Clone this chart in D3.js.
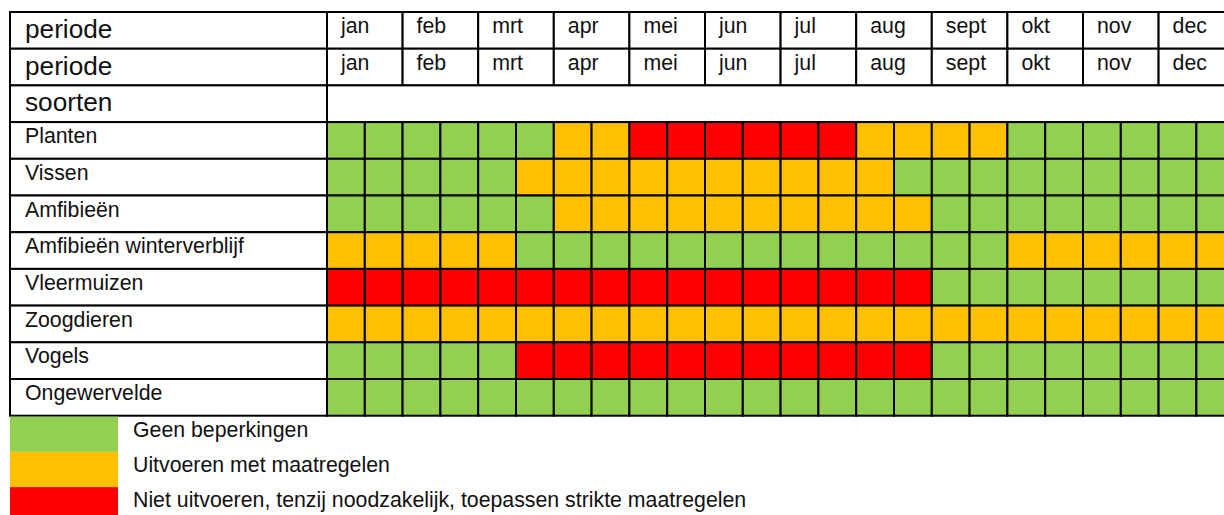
<!DOCTYPE html>
<html>
<head>
<meta charset="utf-8">
<script src="https://cdn.jsdelivr.net/npm/d3@7"></script>
<style>
  body { margin: 0; background: #fff; }
  svg { display: block; font-family: Arial, "Liberation Sans", sans-serif; }
</style>
</head>
<body>
<svg width="1224" height="515"></svg>
<script>
// werkkalender: per soortgroep per halve maand
var months = ["jan", "feb", "mrt", "apr", "mei", "jun", "jul", "aug", "sept", "okt", "nov", "dec"];
var headerLabels = ["periode", "periode", "soorten"];
var soorten = ["Planten", "Vissen", "Amfibieën", "Amfibieën winterverblijf",
  "Vleermuizen", "Zoogdieren", "Vogels", "Ongewervelde"];

// G = geen beperkingen, O = met maatregelen, R = niet uitvoeren
var planten      = ["G","G","G","G","G","G","O","O","R","R","R","R","R","R","O","O","O","O","G","G","G","G","G","G"];
var vissen       = ["G","G","G","G","G","O","O","O","O","O","O","O","O","O","O","G","G","G","G","G","G","G","G","G"];
var amfibieen    = ["G","G","G","G","G","G","O","O","O","O","O","O","O","O","O","O","G","G","G","G","G","G","G","G"];
var amfWinter    = ["O","O","O","O","O","G","G","G","G","G","G","G","G","G","G","G","G","G","O","O","O","O","O","O"];
var vleermuizen  = ["R","R","R","R","R","R","R","R","R","R","R","R","R","R","R","R","G","G","G","G","G","G","G","G"];
var zoogdieren   = ["O","O","O","O","O","O","O","O","O","O","O","O","O","O","O","O","O","O","O","O","O","O","O","O"];
var vogels       = ["G","G","G","G","G","R","R","R","R","R","R","R","R","R","R","R","G","G","G","G","G","G","G","G"];
var ongewervelde = ["G","G","G","G","G","G","G","G","G","G","G","G","G","G","G","G","G","G","G","G","G","G","G","G"];

var statusCodes = ["G", "O", "R"];
var statusColors = ["#92D050", "#FFC000", "#FF0000"];
var legendLabels = ["Geen beperkingen", "Uitvoeren met maatregelen",
  "Niet uitvoeren, tenzij noodzakelijk, toepassen strikte maatregelen"];

var rows = [planten, vissen, amfibieen, amfWinter, vleermuizen, zoogdieren, vogels, ongewervelde];

var svg = d3.select("svg");

var tableX = 10, labelRight = 327, colW = 37.8, tableY = 12, rowH = 36.7;
var textSize = 21.3, headSize = 26.2;
var halves = d3.range(24);

var xScale = d3.scaleBand().domain(halves).range([labelRight, labelRight + 24 * colW]);
var monthScale = d3.scaleBand().domain(months).range([labelRight, labelRight + 24 * colW]);
var rowKeys = headerLabels.map(function (d, i) { return "h" + i; }).concat(soorten);
var yScale = d3.scaleBand().domain(rowKeys).range([tableY, tableY + rowKeys.length * rowH]);
var color = d3.scaleOrdinal().domain(statusCodes).range(statusColors);

var g = svg.append("g");

// label column
g.selectAll(".label-cell")
  .data(rowKeys)
  .enter()
  .append("rect")
  .attr("x", tableX)
  .attr("y", function (d) { return yScale(d); })
  .attr("width", labelRight - tableX)
  .attr("height", yScale.bandwidth())
  .attr("fill", "#fff")
  .attr("stroke", "#000")
  .attr("stroke-width", 2);

g.selectAll(".label-text")
  .data(rowKeys)
  .enter()
  .append("text")
  .attr("x", 25)
  .attr("y", function (d, i) { return yScale(d) + (i < 3 ? 26 : 21); })
  .attr("font-size", function (d, i) { return i < 3 ? headSize : textSize; })
  .attr("fill", "#111")
  .text(function (d, i) { return i < 3 ? headerLabels[i] : d; });

// month header rows
[0, 1].forEach(function (r) {
  var hy = yScale("h" + r);
  g.selectAll(".month" + r)
    .data(months)
    .enter()
    .append("rect")
    .attr("x", function (d) { return monthScale(d); })
    .attr("y", hy)
    .attr("width", monthScale.bandwidth())
    .attr("height", yScale.bandwidth())
    .attr("fill", "#fff")
    .attr("stroke", "#000")
    .attr("stroke-width", 2);
  g.selectAll(".monthtext" + r)
    .data(months)
    .enter()
    .append("text")
    .attr("x", function (d) { return monthScale(d) + 14; })
    .attr("y", hy + 21)
    .attr("font-size", textSize)
    .attr("fill", "#111")
    .text(function (d) { return d; });
});

// empty "soorten" row
g.append("rect")
  .attr("x", labelRight)
  .attr("y", yScale("h2"))
  .attr("width", 24 * colW)
  .attr("height", yScale.bandwidth())
  .attr("fill", "#fff")
  .attr("stroke", "#000")
  .attr("stroke-width", 2);

// coloured cells
soorten.forEach(function (s, i) {
  g.selectAll(".cell" + i)
    .data(rows[i])
    .enter()
    .append("rect")
    .attr("x", function (d, j) { return xScale(j); })
    .attr("y", yScale(s))
    .attr("width", xScale.bandwidth())
    .attr("height", yScale.bandwidth())
    .attr("fill", function (d) { return color(d); })
    .attr("stroke", "#000")
    .attr("stroke-width", 2);
});

// legend
var legendTop = tableY + rowKeys.length * rowH;
var legendH = 35.2;
var legend = svg.append("g");

legend.selectAll("rect")
  .data(statusCodes)
  .enter()
  .append("rect")
  .attr("x", tableX)
  .attr("y", function (d, i) { return legendTop + i * legendH + 1; })
  .attr("width", 108)
  .attr("height", legendH)
  .attr("fill", function (d) { return color(d); });

legend.selectAll("text")
  .data(legendLabels)
  .enter()
  .append("text")
  .attr("x", 133)
  .attr("y", function (d, i) { return legendTop + i * legendH + 21; })
  .attr("font-size", textSize)
  .attr("fill", "#111")
  .text(function (d) { return d; });
</script>
</body>
</html>
